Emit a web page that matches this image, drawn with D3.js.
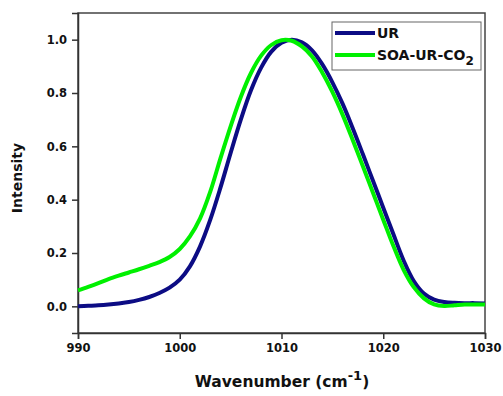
<!DOCTYPE html>
<html><head><meta charset="utf-8">
<script src="https://cdn.jsdelivr.net/npm/d3@7"></script>
<style>body{margin:0;background:#fff}svg{display:block}text{font-family:"DejaVu Sans",Verdana,sans-serif;font-weight:bold;fill:#111}</style>
</head><body>
<svg id="c" width="503" height="396"></svg>
<script>
const wavenumber = d3.range(990, 1031, 1);
const urValues = [0.000,0.002,0.004,0.007,0.011,0.016,0.024,0.035,0.050,0.070,
  0.100,0.150,0.225,0.325,0.445,0.575,0.700,0.810,0.895,0.955,
  0.988,1.000,0.990,0.960,0.908,0.840,0.760,0.668,0.570,0.470,
  0.370,0.270,0.172,0.095,0.048,0.025,0.016,0.013,0.012,0.012,0.011];
const soaValues = [0.060,0.073,0.087,0.102,0.115,0.127,0.139,0.152,0.166,0.185,
  0.215,0.262,0.330,0.430,0.555,0.675,0.785,0.875,0.940,0.980,
  0.998,0.996,0.975,0.937,0.877,0.804,0.719,0.624,0.525,0.425,
  0.325,0.226,0.137,0.072,0.030,0.007,0.001,0.004,0.007,0.007,0.007];
const xTicks = [990, 1000, 1010, 1020, 1030];
const yTicks = [0.0, 0.2, 0.4, 0.6, 0.8, 1.0];
const seriesNames = ["UR", "SOA-UR-CO"];
const seriesColors = ["#0c0c84", "#00f000"];

const svg = d3.select("#c");
const m = {l:78, r:18, t:13, b:63};
const W = 503, H = 396;
const x = d3.scaleLinear().domain([990,1030]).range([m.l, W-m.r]);
const y = d3.scaleLinear().domain([-0.1,1.1]).range([H-m.b, m.t]);

svg.append("rect").attr("x", m.l).attr("y", m.t).attr("width", W-m.r-m.l).attr("height", H-m.b-m.t)
  .attr("fill","none").attr("stroke","#444").attr("stroke-width",1.5);

const xa = svg.append("g").attr("transform",`translate(0,${H-m.b})`)
  .call(d3.axisBottom(x).tickValues(xTicks).tickSize(6).tickPadding(5).tickFormat(d3.format("d")));
const ya = svg.append("g").attr("transform",`translate(${m.l},0)`)
  .call(d3.axisLeft(y).tickValues(yTicks).tickSize(6).tickPadding(5).tickFormat(d3.format(".1f")));
[xa, ya].forEach(a => {
  a.select(".domain").attr("stroke","#333").attr("stroke-width",1.5);
  a.selectAll(".tick line").attr("stroke","#333").attr("stroke-width",1.5);
  a.selectAll(".tick text").style("font-size","11.5px").style("font-family","'DejaVu Sans',sans-serif").style("font-weight","bold").attr("fill","#111");
});

const line = d3.line().curve(d3.curveCatmullRom.alpha(0.5)).x((d,i)=>x(wavenumber[i])).y(d=>y(d));
svg.append("path").datum(urValues).attr("d", line).attr("fill","none")
  .attr("stroke", seriesColors[0]).attr("stroke-width",4);
svg.append("path").datum(soaValues).attr("d", line).attr("fill","none")
  .attr("stroke", seriesColors[1]).attr("stroke-width",4);

const lg = svg.append("g");
lg.append("rect").attr("x",332).attr("y",22).attr("width",149).attr("height",48)
  .attr("fill","#fff").attr("stroke","#666").attr("stroke-width",1);
[0,1].forEach(i => {
  const yy = 33 + i*22;
  lg.append("line").attr("x1",335).attr("x2",375).attr("y1",yy).attr("y2",yy)
    .attr("stroke",seriesColors[i]).attr("stroke-width",4);
  const t = lg.append("text").attr("x",377).attr("y",yy+5).style("font-size","14px").text(seriesNames[i]);
  if (i===1) t.append("tspan").attr("dy",5).style("font-size","12px").text("2");
});

const xt = svg.append("text").attr("x", 282).attr("y", 387).attr("text-anchor","middle").style("font-size","15.5px");
xt.append("tspan").text("Wavenumber (cm");
xt.append("tspan").attr("dy",-7).style("font-size","13px").text("-1");
xt.append("tspan").attr("dy",7).text(")");
svg.append("text").attr("transform","translate(22,178) rotate(-90)").attr("text-anchor","middle")
  .style("font-size","14px").text("Intensity");
</script>
</body></html>
